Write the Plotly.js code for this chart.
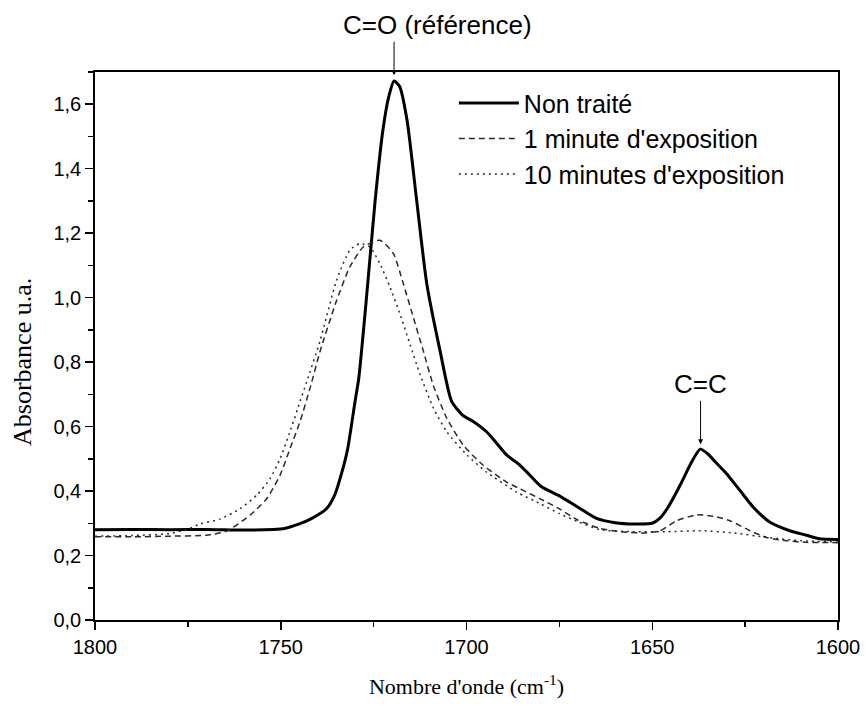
<!DOCTYPE html>
<html><head><meta charset="utf-8">
<script src="https://cdn.plot.ly/plotly-3.0.1.min.js"></script>
<style>html,body{margin:0;padding:0;background:#fff}#chart{width:867px;height:706px}</style>
</head><body><div id="chart"></div>
<script>
// Non traité
const wnRaw = [1800,1790,1780,1770,1760,1752,1749,1745,1742,1737.7,1735.4,1733.5,1732,1730,1729,1727,1724.6,1722.5,1721,1719.5,1718,1716,1713.4,1710.7,1707.1,1704,1701,1698.2,1694.6,1692,1689.2,1685.6,1683,1680,1675,1670,1665,1660,1655,1650,1648,1646,1642.5,1639.4,1637.1,1635,1633,1630,1626.4,1622.8,1618.3,1613,1608.5,1605,1600];
const absRaw = [0.28,0.281,0.28,0.281,0.279,0.281,0.284,0.298,0.313,0.345,0.39,0.46,0.53,0.678,0.75,0.99,1.30,1.52,1.62,1.672,1.655,1.55,1.30,1.044,0.834,0.678,0.635,0.616,0.584,0.55,0.512,0.48,0.45,0.415,0.385,0.35,0.315,0.302,0.298,0.300,0.315,0.345,0.418,0.49,0.53,0.515,0.49,0.454,0.402,0.35,0.303,0.277,0.263,0.252,0.25];
// 1 minute d'exposition
const wn1 = [1800,1790,1780,1770,1765,1762.9,1758.3,1753.8,1750.2,1747.5,1744.8,1742.1,1739.4,1735,1731.4,1727.8,1723.3,1719.7,1717,1714.3,1711.6,1709,1705.3,1700.9,1695.5,1689.2,1685.6,1680,1675,1670,1664,1658.7,1652.4,1647.9,1643.4,1638,1633.6,1629.1,1623.7,1619.2,1613.8,1608.5,1600];
const abs1 = [0.258,0.258,0.26,0.263,0.274,0.287,0.325,0.376,0.449,0.532,0.616,0.72,0.834,0.99,1.095,1.157,1.178,1.137,1.043,0.938,0.834,0.73,0.626,0.543,0.48,0.428,0.407,0.375,0.345,0.31,0.284,0.274,0.27,0.277,0.308,0.326,0.322,0.308,0.277,0.256,0.246,0.241,0.24];
// 10 minutes d'exposition
const wn10 = [1800,1790,1780,1775,1771.7,1766.4,1761,1756.5,1752.9,1750.2,1747.5,1744.8,1743,1739.4,1735,1731.4,1728.7,1726,1723.3,1720.6,1717.9,1715.2,1712.5,1708.9,1705.3,1699.9,1694.6,1686.5,1680,1675,1670,1664,1655,1646,1637,1628,1619,1610,1600];
const abs10 = [0.26,0.262,0.268,0.282,0.298,0.313,0.345,0.387,0.438,0.5,0.584,0.678,0.74,0.866,1.053,1.147,1.168,1.157,1.105,1.033,0.949,0.855,0.762,0.657,0.584,0.512,0.459,0.397,0.36,0.33,0.305,0.28,0.274,0.274,0.277,0.27,0.256,0.246,0.242];

const seriesNames = ["Non traité","1 minute d'exposition","10 minutes d'exposition"];
const peakCO = {x:1719.5, y:1.69, label:"C=O (référence)"};
const peakCC = {x:1637, y:0.545, label:"C=C"};
const xTitle = "Nombre d'onde (cm<sup>-1</sup>)";
const yTitle = "Absorbance u.a.";

const traces = [
  {x:wnRaw, y:absRaw, name:seriesNames[0], mode:'lines', line:{color:'#000', width:3, shape:'spline', smoothing:0.6}},
  {x:wn1, y:abs1, name:seriesNames[1], mode:'lines', line:{color:'#2a2a2a', width:1.5, dash:'6px,4px', shape:'spline', smoothing:0.6}},
  {x:wn10, y:abs10, name:seriesNames[2], mode:'lines', line:{color:'#2a2a2a', width:1.5, dash:'2px,4px', shape:'spline', smoothing:0.6}}
];

const sans = 'Liberation Sans, Arial, sans-serif';
const serif = 'Liberation Serif, Times New Roman, serif';
const tickFont = {family:sans, size:20, color:'#000'};
const layout = {
  width:867, height:706,
  margin:{l:95, r:29, t:72, b:86},
  paper_bgcolor:'#fff', plot_bgcolor:'#fff',
  separators:', ',
  showlegend:true,
  legend:{x:0.483, y:0.985, xanchor:'left', yanchor:'top', bgcolor:'rgba(0,0,0,0)',
          font:{family:sans, size:25, color:'#000'}, itemwidth:60, tracegroupgap:0},
  xaxis:{range:[1800,1600], autorange:false, tickmode:'linear', tick0:1600, dtick:50,
         ticks:'outside', ticklen:8, tickwidth:1.5, tickcolor:'#000',
         minor:{dtick:25, ticks:'outside', ticklen:5, tickwidth:1.5, tickcolor:'#000'},
         showline:true, linecolor:'#000', linewidth:1.8, mirror:true,
         showgrid:false, zeroline:false, tickfont:tickFont,
         title:{text:xTitle, font:{family:serif, size:22, color:'#000'}, standoff:22}},
  yaxis:{range:[0,1.7], autorange:false, tickmode:'linear', tick0:0, dtick:0.2, tickformat:'.1f',
         ticks:'outside', ticklen:8, tickwidth:1.5, tickcolor:'#000',
         minor:{dtick:0.1, ticks:'outside', ticklen:5, tickwidth:1.5, tickcolor:'#000'},
         showline:true, linecolor:'#000', linewidth:1.8, mirror:true,
         showgrid:false, zeroline:false, tickfont:tickFont},
  annotations:[
    {x:peakCO.x, y:peakCO.y, xref:'x', yref:'y', text:'', showarrow:true, arrowhead:2, arrowsize:1, arrowwidth:1, arrowcolor:'#000', ax:0, ay:-35},
    {x:peakCO.x, y:(620-25)/548, xref:'x', yref:'paper', text:peakCO.label, showarrow:false, xshift:43, xanchor:'center', yanchor:'middle',
     font:{family:sans, size:26, color:'#000'}},
    {x:peakCC.x, y:peakCC.y, xref:'x', yref:'y', text:peakCC.label, showarrow:true, arrowhead:2, arrowsize:1, arrowwidth:1, arrowcolor:'#000', ax:0, ay:-60,
     font:{family:sans, size:26, color:'#000'}},
    {x:(22-95)/743, y:(620-362)/548, xref:'paper', yref:'paper', text:yTitle, textangle:-90, showarrow:false, xanchor:'center', yanchor:'middle',
     font:{family:serif, size:26, color:'#000'}}
  ]
};
Plotly.newPlot('chart', traces, layout, {displayModeBar:false, staticPlot:true});
</script></body></html>
